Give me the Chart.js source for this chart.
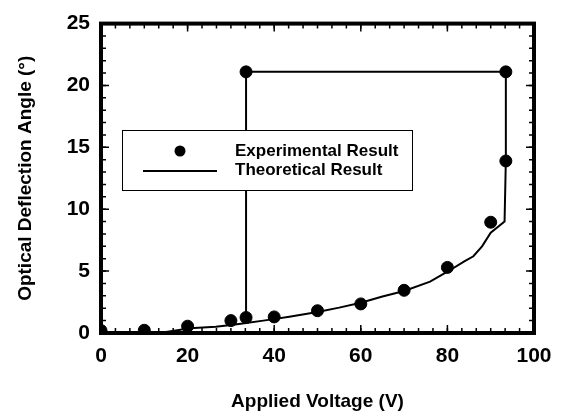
<!DOCTYPE html>
<html>
<head>
<meta charset="utf-8">
<script src="https://cdn.jsdelivr.net/npm/chart.js@4.4.0/dist/chart.umd.min.js"></script>
<style>
  body { margin: 0; background: #fff; }
  #wrap { width: 569px; height: 415px; position: relative; }
</style>
</head>
<body>
<div id="wrap"><canvas id="chart"></canvas></div>
<script>
// measured points (V, degrees)
const expVoltage = [0, 10, 20, 30, 33.5, 40, 50, 60, 70, 80, 90, 93.5, 93.5, 33.5];
const expAngle = [0.2, 0.22, 0.55, 1.0, 1.25, 1.3, 1.8, 2.35, 3.45, 5.3, 8.95, 13.9, 21.1, 21.1];

// theory curve, including the hysteresis loop
const theoVoltage = [0, 10, 15, 18, 20.5, 26.5, 31, 33.5, 37.5, 43.5, 50, 55, 60, 65, 70, 76, 80, 84, 86, 88, 90, 93.2, 93.5, 93.5, 33.5, 33.5];
const theoAngle = [0.02, 0.03, 0.08, 0.25, 0.38, 0.5, 0.68, 0.8, 1.0, 1.32, 1.7, 2.05, 2.45, 2.95, 3.4, 4.15, 4.95, 5.8, 6.2, 7.0, 8.1, 9.0, 14, 21.1, 21.1, 0.8];

const xTicks = [0, 20, 40, 60, 80, 100];
const yTicks = [0, 5, 10, 15, 20, 25];
const xMinorStep = 20 / 6;
const yMinorStep = 1;

const legendItems = ['Experimental Result', 'Theoretical Result'];

const FONT = 'Liberation Sans, Arial, Helvetica, sans-serif';

const toXY = (xs, ys) => xs.map((x, i) => ({x: x, y: ys[i]}));

// frame, inward ticks and boxed legend
const framePlugin = {
  id: 'frame',
  afterDatasetsDraw(chart) {
    const {ctx, chartArea: a, scales} = chart;
    const xs = scales.x, ys = scales.y;
    ctx.save();
    ctx.strokeStyle = '#000';
    ctx.lineWidth = 1.5;
    const tick = (v, len, horiz) => {
      if (horiz) {
        const p = xs.getPixelForValue(v);
        ctx.beginPath();
        ctx.moveTo(p, a.bottom); ctx.lineTo(p, a.bottom - len);
        ctx.moveTo(p, a.top); ctx.lineTo(p, a.top + len);
        ctx.stroke();
      } else {
        const p = ys.getPixelForValue(v);
        ctx.beginPath();
        ctx.moveTo(a.left, p); ctx.lineTo(a.left + len, p);
        ctx.moveTo(a.right, p); ctx.lineTo(a.right - len, p);
        ctx.stroke();
      }
    };
    for (let v = 0; v <= 100.001; v += xMinorStep) tick(v, 5, true);
    xTicks.forEach(v => tick(v, 8, true));
    for (let v = 0; v <= 25; v += yMinorStep) tick(v, 5, false);
    yTicks.forEach(v => tick(v, 8, false));

    ctx.lineWidth = 4;
    ctx.strokeRect(a.left, a.top, a.right - a.left, a.bottom - a.top);

    // legend box
    const bx = 122, by = 130, bw = 290, bh = 60;
    ctx.fillStyle = '#fff';
    ctx.fillRect(bx, by, bw, bh);
    ctx.lineWidth = 1;
    ctx.strokeRect(bx + 0.5, by + 0.5, bw, bh);
    ctx.fillStyle = '#000';
    ctx.beginPath();
    ctx.arc(180, 151, 5.5, 0, Math.PI * 2);
    ctx.fill();
    ctx.lineWidth = 2;
    ctx.beginPath();
    ctx.moveTo(143, 171); ctx.lineTo(217, 171);
    ctx.stroke();
    ctx.font = 'bold 17px ' + FONT;
    ctx.textBaseline = 'middle';
    ctx.fillText(legendItems[0], 235, 151);
    ctx.fillText(legendItems[1], 235, 170);
    ctx.restore();
  }
};

new Chart(document.getElementById('chart'), {
  type: 'scatter',
  data: {
    datasets: [
      {
        label: legendItems[0],
        data: toXY(expVoltage, expAngle),
        backgroundColor: '#000',
        borderColor: '#000',
        pointRadius: 6,
        showLine: false,
        clip: 0
      },
      {
        label: legendItems[1],
        data: toXY(theoVoltage, theoAngle),
        borderColor: '#000',
        borderWidth: 2,
        pointRadius: 0,
        showLine: true,
        tension: 0,
        clip: 0
      }
    ]
  },
  options: {
    responsive: true,
    maintainAspectRatio: false,
    animation: false,
    layout: { padding: { left: 0, right: 35, top: 15, bottom: 0 } },
    plugins: {
      legend: { display: false },
      tooltip: { enabled: false }
    },
    scales: {
      x: {
        type: 'linear',
        min: 0, max: 100,
        afterBuildTicks: s => { s.ticks = xTicks.map(v => ({value: v})); },
        afterFit: s => { s.height = 82; },
        grid: { display: false, drawTicks: false },
        border: { display: false },
        ticks: { color: '#000', padding: 11, font: { family: FONT, size: 21, weight: 'bold' } },
        title: {
          display: true, text: 'Applied Voltage (V)', color: '#000',
          padding: { top: 0, bottom: 2 },
          font: { family: FONT, size: 19, weight: 'bold' }
        }
      },
      y: {
        type: 'linear',
        min: 0, max: 25,
        afterBuildTicks: s => { s.ticks = yTicks.map(v => ({value: v})); },
        afterFit: s => { s.width = 101; },
        grid: { display: false, drawTicks: false },
        border: { display: false },
        ticks: { color: '#000', padding: 11, font: { family: FONT, size: 21, weight: 'bold' } },
        title: {
          display: true, text: 'Optical Deflection Angle (°)', color: '#000',
          padding: { top: 14, bottom: 0 },
          font: { family: FONT, size: 19, weight: 'bold' }
        }
      }
    }
  },
  plugins: [framePlugin]
});
</script>
</body>
</html>
